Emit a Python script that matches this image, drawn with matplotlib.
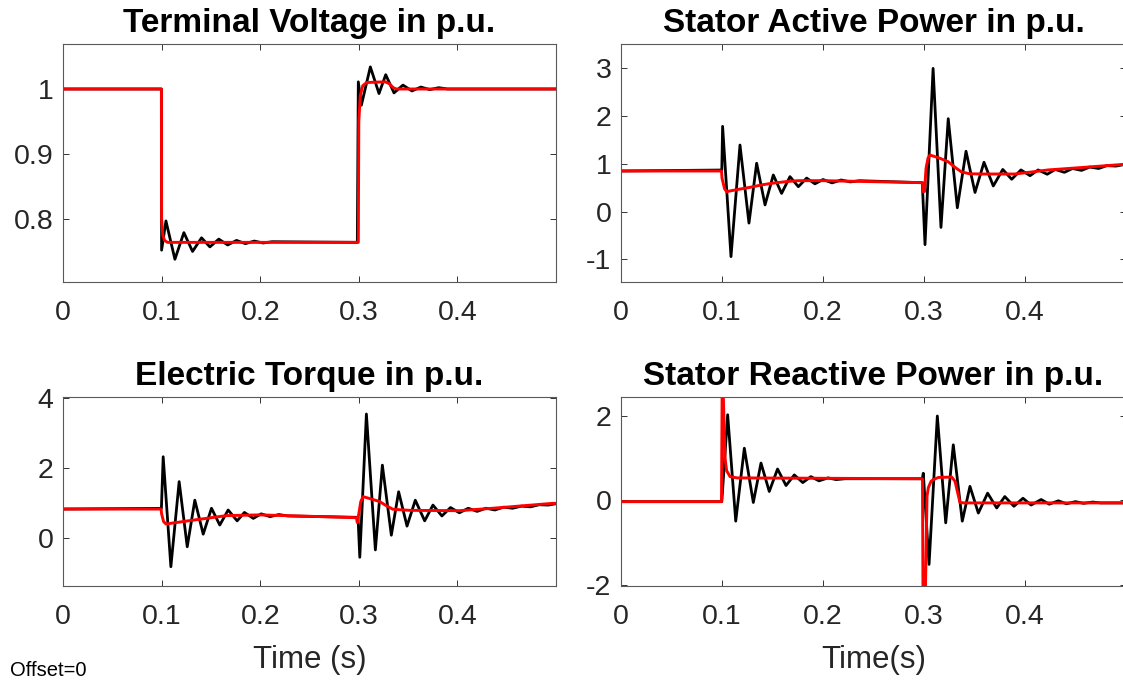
import matplotlib
matplotlib.use("Agg")
import matplotlib.pyplot as plt

plt.rcParams["font.family"] = ["Liberation Sans", "DejaVu Sans"]

# terminal voltage (p.u.)
tv_red_t = [0, 0.0998, 0.1, 0.1012, 0.103, 0.106, 0.2995, 0.3, 0.3015, 0.304,
            0.308, 0.327, 0.331, 0.335, 0.338, 0.5]
tv_red_v = [1.0, 1.0, 0.80, 0.775, 0.767, 0.764, 0.764, 0.95, 0.99, 1.005,
            1.010, 1.011, 1.008, 1.002, 1.0, 1.0]
tv_blk_t = [0, 0.0998, 0.1, 0.1044, 0.1135, 0.1226, 0.1314, 0.1405, 0.149,
            0.158, 0.167, 0.176, 0.185, 0.194, 0.203, 0.212, 0.2985, 0.2995,
            0.3026, 0.3117, 0.3205, 0.3273, 0.3357, 0.3448, 0.3539, 0.363,
            0.372, 0.381, 0.39, 0.5]
tv_blk_v = [1.0, 1.0, 0.752, 0.797, 0.738, 0.779, 0.750, 0.771, 0.757, 0.769,
            0.760, 0.767, 0.762, 0.766, 0.763, 0.765, 0.764, 1.011, 0.975,
            1.034, 0.993, 1.022, 0.994, 1.006, 0.997, 1.003, 0.999, 1.002,
            1.0, 1.0]

# stator active power (p.u.)
sap_red_t = [0, 0.0995, 0.1, 0.1025, 0.1046, 0.115, 0.126, 0.14, 0.149, 0.165,
             0.1756, 0.2003, 0.25, 0.2985, 0.299, 0.3005, 0.302, 0.304, 0.306,
             0.315, 0.324, 0.331, 0.337, 0.345, 0.357, 0.39, 0.423, 0.456, 0.5]
sap_red_v = [0.848, 0.848, 0.70, 0.48, 0.417, 0.46, 0.50, 0.56, 0.59, 0.63,
             0.646, 0.646, 0.625, 0.604, 0.42, 0.42, 0.90, 1.12, 1.18,
             1.12, 1.04, 0.92, 0.83, 0.79, 0.785, 0.785, 0.87, 0.92, 0.99]
sap_blk_t = [0, 0.0998, 0.1006, 0.1089, 0.1178, 0.1267, 0.1343, 0.1426, 0.1508,
             0.159, 0.1673, 0.1756, 0.1838, 0.192, 0.2, 0.209, 0.218, 0.227,
             0.236, 0.2983, 0.301, 0.309, 0.3168, 0.324, 0.333, 0.3416, 0.3505,
             0.3594, 0.3686, 0.378, 0.3868, 0.396, 0.405, 0.413, 0.422, 0.43,
             0.439, 0.447, 0.456, 0.464, 0.473, 0.481, 0.49, 0.5]
sap_blk_v = [0.848, 0.868, 1.78, -0.94, 1.39, -0.24, 1.01, 0.14, 0.765, 0.38,
             0.73, 0.52, 0.70, 0.58, 0.67, 0.60, 0.66, 0.62, 0.645, 0.604,
             -0.69, 2.99, -0.33, 1.94, 0.08, 1.26, 0.40, 1.03, 0.535, 0.88,
             0.675, 0.87, 0.75, 0.87, 0.78, 0.88, 0.82, 0.90, 0.86, 0.93,
             0.90, 0.96, 0.95, 0.99]

# electric torque (p.u.)
et_red_t = [0, 0.0995, 0.1, 0.102, 0.1044, 0.132, 0.166, 0.1996, 0.25, 0.2975,
            0.2985, 0.3, 0.302, 0.3043, 0.312, 0.3212, 0.328, 0.3347, 0.3516,
            0.402, 0.436, 0.4968, 0.5]
et_red_v = [0.837, 0.837, 0.70, 0.48, 0.41, 0.52, 0.65, 0.67, 0.63, 0.59,
            0.45, 0.70, 1.05, 1.19, 1.13, 1.05, 0.93, 0.83, 0.80, 0.79, 0.86,
            1.0, 1.0]
et_blk_t = [0, 0.0998, 0.1016, 0.1094, 0.1178, 0.126, 0.1337, 0.1422, 0.1506,
            0.159, 0.1675, 0.1766, 0.184, 0.193, 0.201, 0.21, 0.219, 0.228,
            0.2992, 0.301, 0.3077, 0.3168, 0.3239, 0.333, 0.3404, 0.3489,
            0.3573, 0.3668, 0.3752, 0.3843, 0.393, 0.402, 0.411, 0.42, 0.429,
            0.438, 0.447, 0.456, 0.465, 0.474, 0.483, 0.492, 0.5]
et_blk_v = [0.837, 0.857, 2.33, -0.81, 1.62, -0.24, 1.09, 0.12, 0.86, 0.38,
            0.81, 0.50, 0.74, 0.57, 0.70, 0.62, 0.68, 0.64, 0.60, -0.54, 3.55,
            -0.33, 2.09, 0.09, 1.33, 0.35, 1.09, 0.50, 0.95, 0.64, 0.88, 0.73,
            0.86, 0.77, 0.86, 0.81, 0.89, 0.86, 0.92, 0.90, 0.96, 0.95, 0.99]

# stator reactive power (p.u.)
srp_red_t = [0, 0.0995, 0.1, 0.1004, 0.1013, 0.103, 0.1046, 0.108, 0.115,
             0.2977, 0.2985, 0.2995, 0.3015, 0.303, 0.3043, 0.307, 0.3092,
             0.3142, 0.3274, 0.3307, 0.3356, 0.34, 0.5]
srp_red_v = [-0.03, -0.03, 2.0, 4.0, 2.45, 1.0, 0.70, 0.56, 0.53, 0.51, 0.50,
             -5.0, -2.0, 0.1, 0.30, 0.45, 0.49, 0.54, 0.55, 0.45, -0.05,
             -0.06, -0.06]
srp_blk_t = [0, 0.0998, 0.1056, 0.1136, 0.1221, 0.131, 0.1386, 0.1468, 0.155,
             0.1634, 0.1716, 0.18, 0.188, 0.196, 0.205, 0.213, 0.222, 0.2983,
             0.2993, 0.305, 0.3132, 0.3215, 0.329, 0.3379, 0.3455, 0.3538,
             0.363, 0.372, 0.38, 0.389, 0.398, 0.406, 0.416, 0.424, 0.433,
             0.441, 0.45, 0.458, 0.467, 0.475, 0.5]
srp_blk_v = [-0.03, -0.03, 2.02, -0.49, 1.23, -0.05, 0.88, 0.21, 0.74, 0.35,
             0.60, 0.42, 0.56, 0.46, 0.53, 0.49, 0.51, 0.51, 0.64, -1.51, 1.99,
             -0.53, 1.31, -0.49, 0.33, -0.30, 0.17, -0.18, 0.09, -0.14, 0.05,
             -0.11, 0.02, -0.09, -0.01, -0.08, -0.03, -0.07, -0.04, -0.06,
             -0.06]

x_ticks = [0, 0.1, 0.2, 0.3, 0.4]
x_labels = ["0", "0.1", "0.2", "0.3", "0.4"]

W, H = 1123, 683
fig = plt.figure(figsize=(W / 100, H / 100), dpi=100)


def px_axes(left, top, width, height):
    return fig.add_axes([left / W, 1 - (top + height) / H, width / W, height / H])


panels = [
    # title, axes box (px), black, red, ylim, yticks, ylabels
    ("Terminal Voltage in p.u.", (63, 43.5, 493, 238.5), (tv_blk_t, tv_blk_v),
     (tv_red_t, tv_red_v), (0.703, 1.07), [0.8, 0.9, 1], ["0.8", "0.9", "1"]),
    ("Stator Active Power in p.u.", (621, 43.5, 505, 238.5), (sap_blk_t, sap_blk_v),
     (sap_red_t, sap_red_v), (-1.47, 3.51), [-1, 0, 1, 2, 3],
     ["-1", "0", "1", "2", "3"]),
    ("Electric Torque in p.u.", (63, 396.5, 493, 189.5), (et_blk_t, et_blk_v),
     (et_red_t, et_red_v), (-1.36, 4.05), [0, 2, 4], ["0", "2", "4"]),
    ("Stator Reactive Power in p.u.", (621, 396.5, 505, 189.5),
     (srp_blk_t, srp_blk_v), (srp_red_t, srp_red_v), (-2.02, 2.45),
     [-2, 0, 2], ["-2", "0", "2"]),
]

axes = []
for title, box, blk, red, ylim, yt, yl in panels:
    ax = px_axes(*box)
    ax.plot(blk[0], blk[1], color="black", lw=2.0, solid_joinstyle="round")
    ax.plot(red[0], red[1], color="#ff0000", lw=2.1, solid_joinstyle="round")
    ax.set_xlim(0, 0.5)
    ax.set_ylim(*ylim)
    ax.set_xticks(x_ticks)
    ax.set_xticklabels(x_labels)
    ax.set_yticks(yt)
    ax.set_yticklabels(yl)
    ax.tick_params(direction="in", top=True, right=True, length=4,
                   width=0.7, color="0.2", labelsize=20.5, labelcolor="#262626")
    ax.tick_params(axis="x", pad=13)
    ax.tick_params(axis="y", pad=7)
    for sp in ax.spines.values():
        sp.set_color("0.35")
        sp.set_linewidth(0.8)
    ax.set_title(title, fontsize=24, fontweight="bold", pad=8)
    axes.append(ax)

axes[2].set_xlabel("Time (s)", fontsize=22.5, color="#262626", labelpad=11)
axes[3].set_xlabel("Time(s)", fontsize=22.5, color="#262626", labelpad=11)
fig.text(10 / W, 1 - 670 / H, "Offset=0", fontsize=14.5, va="center", ha="left")

fig.savefig("out.png", dpi=100)
